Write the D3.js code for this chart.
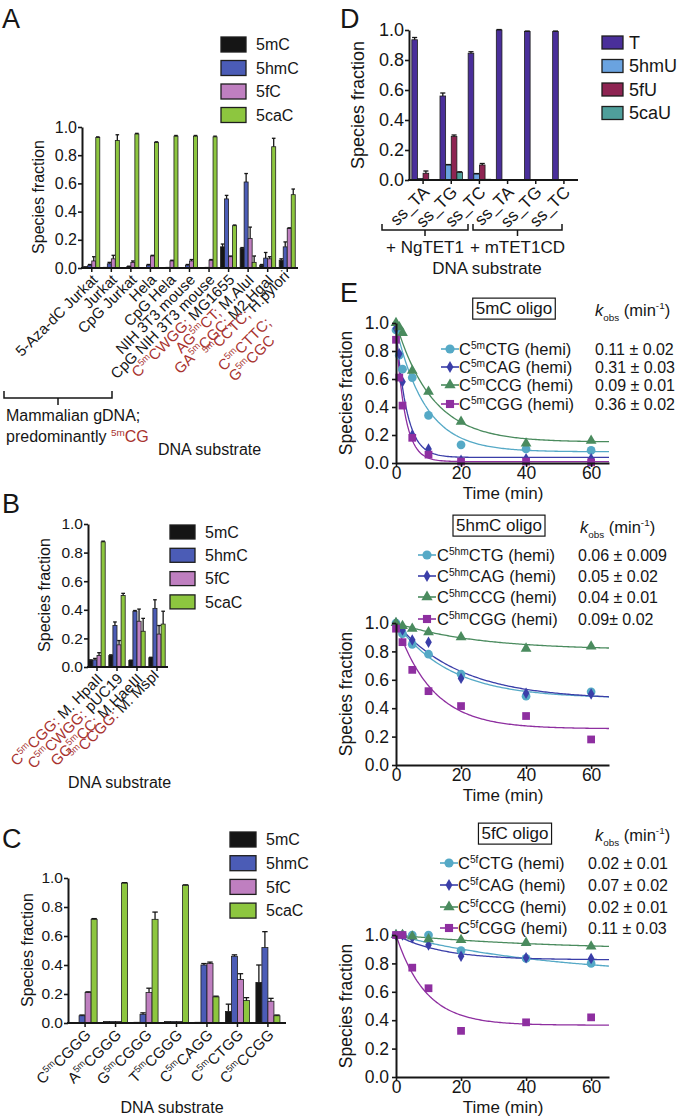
<!DOCTYPE html>
<html><head><meta charset="utf-8">
<script src="https://cdn.jsdelivr.net/npm/d3@7/dist/d3.min.js"></script>
<style>
html,body{margin:0;padding:0;background:#fff}
svg{display:block}
</style></head><body>
<svg id="fig" width="680" height="1116"></svg>
<script>
// ================= DATA =================
const yTicks = [0, 0.2, 0.4, 0.6, 0.8, 1.0];
const seriesC = ["5mC", "5hmC", "5fC", "5caC"];
const colorsC = ["#151515", "#4b5cb6", "#bf7fc0", "#8dc63f"];

// Panel A
const catsA = ["5-Aza-dC Jurkat", "Jurkat", "CpG Jurkat", "Hela", "CpG Hela", "NIH 3T3 mouse",
  "CpG NIH 3T3 mouse", "[C{5m}CWGG;] MG1655", "[AG{5m}CT;] M.AluI", "[GA{5m}CGC;] M2.HgaI",
  "[{5m}CCTC;] H.pylori|[C{5m}CTTC;]|[G{5m}CGC]"];
const A_5mC  = [0.01, 0.005, 0.003, 0.003, 0.003, 0.003, 0.003, 0.15, 0.14, 0.02, 0.055];
const A_5hmC = [0.02, 0.03, 0.01, 0.02, 0.005, 0.02, 0.005, 0.49, 0.61, 0.07, 0.15];
const A_5fC  = [0.05, 0.065, 0.04, 0.085, 0.05, 0.05, 0.055, 0.08, 0.21, 0.065, 0.28];
const A_5caC = [0.925, 0.905, 0.95, 0.89, 0.935, 0.935, 0.93, 0.30, 0.04, 0.86, 0.52];
const A_e5mC  = [0, 0, 0, 0, 0, 0, 0, 0.02, 0.005, 0.005, 0.01];
const A_e5hmC = [0.005, 0.01, 0.003, 0.005, 0, 0.005, 0, 0.025, 0.06, 0.04, 0.035];
const A_e5fC  = [0.03, 0.025, 0.01, 0.005, 0.005, 0.01, 0.005, 0.005, 0.08, 0.015, 0.005];
const A_e5caC = [0.005, 0.04, 0.005, 0.005, 0.005, 0.005, 0.005, 0.005, 0.045, 0.06, 0.04];

// Panel B
const catsB = ["[C{5m}CGG:] M. HpaII", "[C{5m}CWGG:] pUC19", "[GG{5m}CC:] M.HaeIII", "[{5m}CCGG:] M. MspI"];
const B_5mC  = [0.045, 0.08, 0.045, 0.065];
const B_5hmC = [0.05, 0.29, 0.39, 0.41];
const B_5fC  = [0.08, 0.155, 0.32, 0.23];
const B_5caC = [0.875, 0.50, 0.25, 0.30];
const B_e5mC  = [0.005, 0.005, 0.003, 0.003];
const B_e5hmC = [0.01, 0.025, 0.005, 0.06];
const B_e5fC  = [0.02, 0.03, 0.085, 0.06];
const B_e5caC = [0.005, 0.015, 0.09, 0.09];

// Panel C
const catsC = ["C{5m}CGGG", "A{5m}CGGG", "G{5m}CGGG", "T{5m}CGGG", "C{5m}CAGG", "C{5m}CTGG", "C{5m}CCGG"];
const C_5mC  = [0.003, 0.01, 0.005, 0.01, 0.005, 0.08, 0.28];
const C_5hmC = [0.05, 0.01, 0.06, 0.01, 0.40, 0.46, 0.52];
const C_5fC  = [0.21, 0.01, 0.21, 0.01, 0.41, 0.30, 0.15];
const C_5caC = [0.715, 0.965, 0.715, 0.95, 0.18, 0.155, 0.05];
const C_e5mC  = [0, 0, 0, 0, 0, 0.05, 0.12];
const C_e5hmC = [0.005, 0, 0.01, 0, 0.01, 0.01, 0.11];
const C_e5fC  = [0.005, 0, 0.03, 0, 0.01, 0.04, 0.02];
const C_e5caC = [0.005, 0.003, 0.05, 0.003, 0.005, 0.02, 0.005];

// Panel D
const seriesD = ["T", "5hmU", "5fU", "5caU"];
const colorsD = ["#4a2f9a", "#6aa3e0", "#8e2452", "#4f9f9b"];
const catsD = ["ss_TA", "ss_TG", "ss_TC", "ss_TA", "ss_TG", "ss_TC"];
const groupsD = ["+ NgTET1", "+ mTET1CD"];
const D_T    = [0.935, 0.56, 0.845, 1.0, 0.99, 0.99];
const D_5hmU = [0.01, 0.10, 0.04, 0, 0, 0];
const D_5fU  = [0.045, 0.29, 0.10, 0, 0.003, 0.003];
const D_5caU = [0.003, 0.05, 0.005, 0, 0, 0];
const D_eT    = [0.015, 0.02, 0.01, 0.003, 0.003, 0.003];
const D_e5hmU = [0, 0.003, 0.003, 0, 0, 0];
const D_e5fU  = [0.015, 0.01, 0.01, 0, 0, 0];
const D_e5caU = [0, 0.005, 0, 0, 0, 0];

// Panel E
const colorsE = ["#55a9c6", "#3a3ea8", "#4a8b5e", "#8e2fa0"];
const timeTicks = [0, 20, 40, 60];
const times1 = [0, 1, 2, 5, 10, 20, 40, 60];
const times2 = [0, 2, 5, 10, 20, 40, 60];
const E1_CTG = [0.95, 0.77, 0.67, 0.61, 0.34, 0.13, 0.10, 0.09];
const E1_CAG = [0.96, 0.78, 0.58, 0.20, 0.10, 0.02, 0.03, 0.03];
const E1_CCG = [1.0, 0.97, 0.93, 0.66, 0.51, 0.295, 0.14, 0.16];
const E1_CGG = [0.88, 0.61, 0.41, 0.18, 0.06, 0.01, 0.01, 0.005];
const E1_k = [0.11, 0.31, 0.09, 0.36];
const E1_plateau = [0.08, 0.04, 0.15, 0.01];
const E1_start = [0.97, 0.97, 1.0, 0.93];
const E1_kText = ["0.11 ± 0.02", "0.31 ± 0.03", "0.09 ± 0.01", "0.36 ± 0.02"];
const E1_names = ["C{5m}CTG (hemi)", "C{5m}CAG (hemi)", "C{5m}CCG (hemi)", "C{5m}CGG (hemi)"];

const E2_CTG = [1.0, 0.925, 0.85, 0.78, 0.64, 0.485, 0.515];
const E2_CAG = [1.0, 0.95, 0.88, 0.865, 0.61, 0.505, 0.50];
const E2_CCG = [1.0, 0.98, 0.96, 0.935, 0.90, 0.82, 0.835];
const E2_CGG = [0.96, 0.865, 0.67, 0.52, 0.415, 0.345, 0.18];
const E2_k = [0.06, 0.05, 0.04, 0.09];
const E2_plateau = [0.47, 0.46, 0.81, 0.255];
const E2_start = [1.0, 1.0, 1.0, 1.0];
const E2_kText = ["0.06 ± 0.009", "0.05 ± 0.02", "0.04 ± 0.01", "0.09± 0.02"];
const E2_names = ["C{5hm}CTG (hemi)", "C{5hm}CAG (hemi)", "C{5hm}CCG (hemi)", "C{5hm}CGG (hemi)"];

const E3_CTG = [1.0, 1.0, 1.0, 1.0, 0.89, 0.835, 0.80];
const E3_CAG = [1.0, 1.0, 0.98, 0.93, 0.85, 0.84, 0.835];
const E3_CCG = [1.0, 1.0, 0.99, 0.97, 0.965, 0.945, 0.92];
const E3_CGG = [1.0, 1.0, 0.77, 0.625, 0.325, 0.385, 0.42];
const E3_k = [0.02, 0.07, 0.02, 0.11];
const E3_plateau = [0.70, 0.825, 0.89, 0.365];
const E3_start = [1.0, 1.0, 1.0, 1.0];
const E3_kText = ["0.02 ± 0.01", "0.07 ± 0.02", "0.02 ± 0.01", "0.11 ± 0.03"];
const E3_names = ["C{5f}CTG (hemi)", "C{5f}CAG (hemi)", "C{5f}CCG (hemi)", "C{5f}CGG (hemi)"];

// ================= DRAWING =================
const FONT = '"Liberation Sans", Arial, Helvetica, sans-serif';
const RED = "#a8332f";
const INK = "#161616";
const svg = d3.select("#fig").attr("font-family", FONT);
svg.append("rect").attr("width", 680).attr("height", 1116).attr("fill", "#fff");

function parseSegs(s) {
  const out = []; let red = false, sup = false, buf = "";
  for (const ch of s) {
    if ("[]{}".includes(ch)) {
      if (buf) out.push({ t: buf, red, sup });
      buf = "";
      if (ch === "[") red = true; else if (ch === "]") red = false;
      else if (ch === "{") sup = true; else sup = false;
    } else buf += ch;
  }
  if (buf) out.push({ t: buf, red, sup });
  return out;
}
function richText(textSel, str, fs) {
  let shifted = false;
  parseSegs(str).forEach(sg => {
    const ts = textSel.append("tspan").text(sg.t);
    if (sg.red) ts.attr("fill", RED);
    if (sg.sup) { ts.attr("font-size", fs * 0.62); if (!shifted) ts.attr("dy", -fs * 0.38); shifted = true; }
    else if (shifted) { ts.attr("dy", fs * 0.38); shifted = false; }
  });
}
function panelLetter(t, x, y) {
  svg.append("text").attr("x", x).attr("y", y).attr("font-size", 27).attr("fill", INK).text(t);
}
function styleAxis(ax, fs) {
  ax.attr("font-family", FONT).attr("font-size", fs);
  ax.selectAll("text").attr("fill", INK);
  ax.select(".domain").attr("stroke", INK).attr("stroke-width", 2);
  ax.selectAll(".tick line").attr("stroke", INK).attr("stroke-width", 1.6);
}
function yTitle(x, y, fs) {
  svg.append("text").attr("transform", `translate(${x},${y}) rotate(-90)`).attr("text-anchor", "middle")
    .attr("font-size", fs).attr("fill", INK).text("Species fraction");
}

function barPanel(cfg) {
  const g = svg.append("g");
  const y = d3.scaleLinear().domain([0, 1]).range([cfg.y0, cfg.y1]);
  const xb = d3.scaleBand().domain(d3.range(cfg.cats.length)).range(cfg.range)
    .paddingInner(cfg.pi).paddingOuter(cfg.po);
  const xs = d3.scaleBand().domain(d3.range(cfg.vals.length)).range([0, xb.bandwidth()]);
  cfg.vals.forEach((arr, si) => {
    g.append("g").selectAll("rect").data(arr).join("rect")
      .attr("x", (d, i) => xb(i) + xs(si)).attr("width", xs.bandwidth())
      .attr("y", d => y(d)).attr("height", d => cfg.y0 - y(d))
      .attr("fill", cfg.colors[si]).attr("stroke", "#1e1e1e").attr("stroke-width", 0.8);
  });
  const eg = g.append("g").attr("stroke", INK).attr("stroke-width", 1.3);
  const cap = xs.bandwidth() * 0.45;
  cfg.vals.forEach((arr, si) => {
    arr.forEach((d, i) => {
      const e = cfg.errs[si][i]; if (!e) return;
      const cx = xb(i) + xs(si) + xs.bandwidth() / 2;
      eg.append("line").attr("x1", cx).attr("x2", cx).attr("y1", y(d)).attr("y2", y(d + e));
      eg.append("line").attr("x1", cx - cap).attr("x2", cx + cap).attr("y1", y(d + e)).attr("y2", y(d + e));
    });
  });
  // axes
  const ya = g.append("g").attr("transform", `translate(${cfg.ax0},0)`)
    .call(d3.axisLeft(y).tickValues(yTicks).tickFormat(d3.format(".1f")).tickSize(4).tickPadding(cfg.tpad).tickSizeOuter(0));
  styleAxis(ya, cfg.fs);
  g.append("line").attr("x1", cfg.ax0 - 1).attr("x2", cfg.ax1).attr("y1", cfg.y0).attr("y2", cfg.y0)
    .attr("stroke", INK).attr("stroke-width", 2);
  g.append("g").selectAll("line").data(cfg.cats).join("line")
    .attr("x1", (d, i) => xb(i) + xb.bandwidth() / 2).attr("x2", (d, i) => xb(i) + xb.bandwidth() / 2)
    .attr("y1", cfg.y0).attr("y2", cfg.y0 + 4).attr("stroke", INK).attr("stroke-width", 1.5);
  // rotated labels
  cfg.cats.forEach((c, i) => {
    const lines = c.split("|");
    const gg = g.append("g").attr("transform", `translate(${xb(i) + xb.bandwidth() / 2 + 3},${cfg.y0 + 9}) rotate(-45)`);
    const t0 = gg.append("text").attr("text-anchor", "end").attr("font-size", cfg.lfs).attr("fill", INK).attr("dy", "0.35em");
    richText(t0, lines[0], cfg.lfs);
    const L = t0.node().getComputedTextLength();
    lines.slice(1).forEach((ln, k) => {
      const t = gg.append("text").attr("text-anchor", "start").attr("x", -L).attr("y", (k + 1) * cfg.lfs * 1.0)
        .attr("font-size", cfg.lfs).attr("fill", INK).attr("dy", "0.35em");
      richText(t, ln, cfg.lfs);
    });
  });
  // legend
  const lg = g.append("g");
  cfg.series.forEach((s, si) => {
    const yy = cfg.legY + si * cfg.legDy;
    lg.append("rect").attr("x", cfg.legX).attr("y", yy).attr("width", cfg.swW).attr("height", cfg.swH)
      .attr("fill", cfg.colors[si]).attr("stroke", "#1e1e1e").attr("stroke-width", 1.3);
    lg.append("text").attr("x", cfg.legX + cfg.swW + cfg.legGap).attr("y", yy + cfg.swH / 2).attr("dy", "0.36em")
      .attr("font-size", cfg.legFs).attr("fill", INK).text(s);
  });
  return { xb, y };
}

// ---------- Panel A ----------
panelLetter("A", 2, 28);
barPanel({
  cats: catsA, vals: [A_5mC, A_5hmC, A_5fC, A_5caC], errs: [A_e5mC, A_e5hmC, A_e5fC, A_e5caC],
  colors: colorsC, series: seriesC, y0: 268, y1: 127, range: [82, 297], pi: 0.18, po: 0.09,
  ax0: 82, ax1: 298, fs: 16, tpad: 1, lfs: 15,
  legX: 221, legY: 37, legDy: 23.5, swW: 25, swH: 15, legGap: 10, legFs: 16
});
yTitle(44, 197, 16);
svg.append("path").attr("d", "M4,391V398H112V391M58,398V405").attr("fill", "none").attr("stroke", INK).attr("stroke-width", 1.5);
svg.append("text").attr("x", 6).attr("y", 421).attr("font-size", 16).attr("fill", INK).text("Mammalian gDNA;");
{
  const t = svg.append("text").attr("x", 6).attr("y", 442).attr("font-size", 16).attr("fill", INK);
  richText(t, "predominantly [{5m}CG]", 16);
}
svg.append("text").attr("x", 158).attr("y", 455).attr("font-size", 16).attr("fill", INK).text("DNA substrate");

// ---------- Panel B ----------
panelLetter("B", 2, 513);
barPanel({
  cats: catsB, vals: [B_5mC, B_5hmC, B_5fC, B_5caC], errs: [B_e5mC, B_e5hmC, B_e5fC, B_e5caC],
  colors: colorsC, series: seriesC, y0: 667, y1: 524, range: [87, 167], pi: 0.18, po: 0.09,
  ax0: 88, ax1: 168, fs: 15.5, tpad: 1, lfs: 15,
  legX: 170, legY: 525, legDy: 23.3, swW: 25, swH: 14, legGap: 10, legFs: 16
});
yTitle(50, 595, 16);
svg.append("text").attr("x", 68).attr("y", 788).attr("font-size", 16).attr("fill", INK).text("DNA substrate");

// ---------- Panel C ----------
panelLetter("C", 2, 848);
barPanel({
  cats: catsC, vals: [C_5mC, C_5hmC, C_5fC, C_5caC], errs: [C_e5mC, C_e5hmC, C_e5fC, C_e5caC],
  colors: colorsC, series: seriesC, y0: 1023, y1: 878, range: [70, 283], pi: 0.21, po: 0.1,
  ax0: 68, ax1: 286, fs: 15.5, tpad: 1, lfs: 15,
  legX: 230, legY: 832, legDy: 23.7, swW: 26, swH: 15, legGap: 10, legFs: 16
});
yTitle(33, 950, 16);
svg.append("text").attr("x", 172).attr("y", 1113).attr("text-anchor", "middle").attr("font-size", 16).attr("fill", INK).text("DNA substrate");

// ---------- Panel D ----------
panelLetter("D", 340, 28);
barPanel({
  cats: catsD, vals: [D_T, D_5hmU, D_5fU, D_5caU], errs: [D_eT, D_e5hmU, D_e5fU, D_e5caU],
  colors: colorsD, series: seriesD, y0: 180, y1: 30, range: [409, 578], pi: 0.2, po: 0.1,
  ax0: 409, ax1: 578, fs: 18, tpad: 1, lfs: 17,
  legX: 602, legY: 36, legDy: 23.5, swW: 21, swH: 13, legGap: 6, legFs: 18
});
yTitle(364, 105, 18);
svg.append("path").attr("d", "M382,224V230H468V224M425,230V236").attr("fill", "none").attr("stroke", INK).attr("stroke-width", 1.5);
svg.append("path").attr("d", "M473,224V230H562V224M517.5,230V236").attr("fill", "none").attr("stroke", INK).attr("stroke-width", 1.5);
groupsD.forEach((gname, i) => {
  svg.append("text").attr("x", [425, 517.5][i]).attr("y", 253).attr("text-anchor", "middle")
    .attr("font-size", 17).attr("fill", INK).text(gname);
});
svg.append("text").attr("x", 487).attr("y", 274).attr("text-anchor", "middle").attr("font-size", 17).attr("fill", INK).text("DNA substrate");

// ---------- Panel E ----------
panelLetter("E", 340, 302);
const symbolsE = [d3.symbolCircle, d3.symbolDiamond, d3.symbolTriangle, d3.symbolSquare];
const sizesE = [60, 38, 50, 60];

function kobs(x, y, fs) {
  const t = svg.append("text").attr("x", x).attr("y", y).attr("font-size", fs).attr("fill", INK);
  t.append("tspan").attr("font-style", "italic").text("k");
  t.append("tspan").attr("font-size", fs * 0.6).attr("dy", fs * 0.3).text("obs");
  t.append("tspan").attr("dy", -fs * 0.3).text(" (min");
  t.append("tspan").attr("font-size", fs * 0.6).attr("dy", -fs * 0.4).text("-1");
  t.append("tspan").attr("dy", fs * 0.4).text(")");
}

function kinetics(cfg) {
  const g = svg.append("g");
  const x = d3.scaleLinear().domain([0, 65.5]).range([396, 609]);
  const y = d3.scaleLinear().domain([0, 1]).range([cfg.y0, cfg.y1]);
  const fs = 17.5, lfs = 16.5, vfs = 16;
  cfg.data.forEach((arr, si) => {
    const fit = t => cfg.plateau[si] + (cfg.start[si] - cfg.plateau[si]) * Math.exp(-cfg.k[si] * t);
    const pts = d3.range(0, 65.6, 0.5).map(t => [t, fit(t)]);
    g.append("path").attr("d", d3.line().x(d => x(d[0])).y(d => y(d[1]))(pts))
      .attr("fill", "none").attr("stroke", colorsE[si]).attr("stroke-width", 1.3);
  });
  cfg.data.forEach((arr, si) => {
    g.append("g").selectAll("path").data(arr).join("path")
      .attr("transform", (d, i) => `translate(${x(cfg.times[i])},${y(d)})`)
      .attr("d", d3.symbol().type(symbolsE[si]).size(sizesE[si])())
      .attr("fill", colorsE[si]);
  });
  const ya = g.append("g").attr("transform", `translate(396,0)`)
    .call(d3.axisLeft(y).tickValues(yTicks).tickFormat(d3.format(".1f")).tickSize(4).tickPadding(3).tickSizeOuter(0));
  styleAxis(ya, fs);
  const xa = g.append("g").attr("transform", `translate(0,${cfg.y0})`)
    .call(d3.axisBottom(x).tickValues(timeTicks).tickSize(4).tickPadding(0).tickSizeOuter(0));
  styleAxis(xa, fs);
  svg.append("text").attr("x", 503).attr("y", cfg.y0 + 36).attr("text-anchor", "middle").attr("font-size", 17).attr("fill", INK).text("Time (min)");
  yTitle(352, (cfg.y0 + cfg.y1) / 2, fs);
  // title box
  const bt = svg.append("text").attr("x", cfg.boxX).attr("y", cfg.boxY).attr("dy", "0.36em").attr("text-anchor", "middle")
    .attr("font-size", 17).attr("fill", INK).text(cfg.title);
  const bb = bt.node().getBBox();
  svg.insert("rect", "text").attr("x", bb.x - 3).attr("y", bb.y - 1).attr("width", bb.width + 6).attr("height", bb.height + 2)
    .attr("fill", "#fff").attr("stroke", INK).attr("stroke-width", 1.2);
  svg.node().appendChild(bt.node());
  kobs(cfg.kX, cfg.boxY + 8, lfs);
  // legend
  cfg.names.forEach((nm, si) => {
    const yy = cfg.legY[si];
    svg.append("line").attr("x1", cfg.legMX - 9).attr("x2", cfg.legMX + 9).attr("y1", yy).attr("y2", yy)
      .attr("stroke", colorsE[si]).attr("stroke-width", 1.6);
    svg.append("path").attr("transform", `translate(${cfg.legMX},${yy})`)
      .attr("d", d3.symbol().type(symbolsE[si]).size(sizesE[si] * 1.1)()).attr("fill", colorsE[si]);
    const t = svg.append("text").attr("x", cfg.legTX).attr("y", yy).attr("dy", "0.36em").attr("font-size", lfs).attr("fill", INK);
    richText(t, nm, lfs);
    svg.append("text").attr("x", cfg.valX).attr("y", yy).attr("dy", "0.36em").attr("font-size", vfs).attr("fill", INK).text(cfg.kText[si]);
  });
}

kinetics({
  data: [E1_CTG, E1_CAG, E1_CCG, E1_CGG], times: times1, k: E1_k, plateau: E1_plateau, start: E1_start,
  y0: 463, y1: 323, title: "5mC oligo", boxX: 514, boxY: 308, kX: 595,
  names: E1_names, kText: E1_kText, legY: [349, 367, 385, 404], legMX: 450, legTX: 459, valX: 595
});
kinetics({
  data: [E2_CTG, E2_CAG, E2_CCG, E2_CGG], times: times2, k: E2_k, plateau: E2_plateau, start: E2_start,
  y0: 765, y1: 623, title: "5hmC oligo", boxX: 499, boxY: 525, kX: 580,
  names: E2_names, kText: E2_kText, legY: [555, 576, 597, 619], legMX: 427, legTX: 437, valX: 578
});
kinetics({
  data: [E3_CTG, E3_CAG, E3_CCG, E3_CGG], times: times2, k: E3_k, plateau: E3_plateau, start: E3_start,
  y0: 1077, y1: 935, title: "5fC oligo", boxX: 515, boxY: 833, kX: 595,
  names: E3_names, kText: E3_kText, legY: [863, 885, 907, 928], legMX: 449, legTX: 458, valX: 588
});
</script>
</body></html>
